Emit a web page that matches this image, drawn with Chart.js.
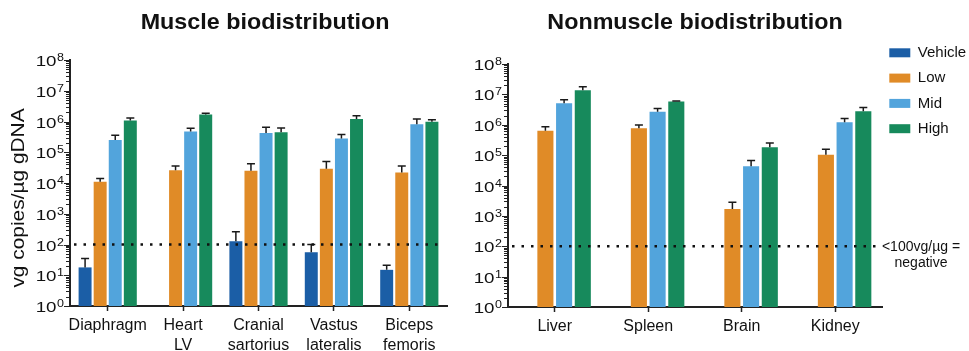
<!DOCTYPE html>
<html>
<head>
<meta charset="utf-8">
<title>Biodistribution</title>
<script src="https://cdn.jsdelivr.net/npm/chart.js@4.4.1/dist/chart.umd.min.js"></script>
<style>
  html, body { margin: 0; padding: 0; background: #fff; overflow: hidden; }
  .wrap { position: absolute; top: 0; height: 351px; }
  #muscleWrap { left: 0; width: 465px; }
  #nonmuscleWrap { left: 465px; width: 504px; }
</style>
</head>
<body>
<div class="wrap" id="muscleWrap"><canvas id="muscleChart" width="465" height="351"></canvas></div>
<div class="wrap" id="nonmuscleWrap"><canvas id="nonmuscleChart" width="504" height="351"></canvas></div>
<script>
// Dados (vg copies / µg gDNA) - média e topo da barra de erro
const seriesNames = ['Vehicle', 'Low', 'Mid', 'High'];

const muscleCategories = ['Diaphragm', ['Heart', 'LV'], ['Cranial', 'sartorius'], ['Vastus', 'lateralis'], ['Biceps', 'femoris']];
const muscleVehicle = [18, null, 127, 56, 15];
const muscleVehicleUpper = [35, null, 260, 100, 21];
const muscleLow = [1.1e4, 2.6e4, 2.5e4, 2.9e4, 2.2e4];
const muscleLowUpper = [1.4e4, 3.6e4, 4.2e4, 5.0e4, 3.6e4];
const muscleMid = [2.5e5, 4.7e5, 4.2e5, 2.8e5, 8.1e5];
const muscleMidUpper = [3.6e5, 6.0e5, 6.5e5, 3.8e5, 1.2e6];
const muscleHigh = [1.07e6, 1.7e6, 4.5e5, 1.2e6, 9.8e5];
const muscleHighUpper = [1.3e6, 1.85e6, 6.2e5, 1.55e6, 1.15e6];

const nonmuscleCategories = ['Liver', 'Spleen', 'Brain', 'Kidney'];
const nonmuscleVehicle = [null, null, null, null];
const nonmuscleVehicleUpper = [null, null, null, null];
const nonmuscleLow = [6.3e5, 7.6e5, 1.7e3, 1.02e5];
const nonmuscleLowUpper = [8.6e5, 9.8e5, 2.8e3, 1.55e5];
const nonmuscleMid = [5.1e6, 2.7e6, 4.3e4, 1.2e6];
const nonmuscleMidUpper = [6.6e6, 3.4e6, 6.7e4, 1.6e6];
const nonmuscleHigh = [1.37e7, 5.8e6, 1.8e5, 2.8e6];
const nonmuscleHighUpper = [1.77e7, 6.1e6, 2.5e5, 3.7e6];

// Eixo y logarítmico: expoentes rotulados e marcas menores
const yExponents = [0, 1, 2, 3, 4, 5, 6, 7, 8];
const minorSteps = [2, 3, 4, 5, 6, 7, 8, 9];
const negativeCutoff = 100;

const FONT = "'Liberation Sans', Arial, Helvetica, sans-serif";
const TEXT = '#111';
const AXIS = '#222';
const COLORS = ['#1b5ea6', '#e08b27', '#52a4dc', '#178a5c'];

// Texto esticado na horizontal (a fonte do original é mais larga)
function wideText(ctx, text, x, y, sx) {
    ctx.save();
    ctx.translate(x, y);
    ctx.scale(sx, 1);
    ctx.fillText(text, 0, 0);
    ctx.restore();
}

// Plugin: barras de erro, linha pontilhada, rótulos 10^n, títulos e notas
const biodistPlugin = {
    id: 'biodist',
    afterLayout(chart, args, opts) {
        if (opts.legendTop != null && chart.legend) {
            chart.legend.top = opts.legendTop;
            chart.legend.left += opts.legendShift || 0;
        }
    },
    afterDatasetsDraw(chart, args, opts) {
        const { ctx, chartArea } = chart;
        const yScale = chart.scales.y;
        ctx.save();

        // barras de erro (só a parte de cima)
        ctx.strokeStyle = '#1a1a1a';
        ctx.lineWidth = 1.5;
        chart.data.datasets.forEach((ds, i) => {
            chart.getDatasetMeta(i).data.forEach((bar, j) => {
                if (ds.data[j] == null || ds.upper[j] == null) return;
                const yTop = yScale.getPixelForValue(ds.upper[j]);
                ctx.beginPath();
                ctx.moveTo(bar.x, bar.y);
                ctx.lineTo(bar.x, yTop);
                ctx.moveTo(bar.x - 4, yTop);
                ctx.lineTo(bar.x + 4, yTop);
                ctx.stroke();
            });
        });

        // linha de corte <100 vg/µg
        const yCut = yScale.getPixelForValue(negativeCutoff);
        ctx.setLineDash([2.5, 7]);
        ctx.lineWidth = 2.5;
        ctx.strokeStyle = TEXT;
        ctx.beginPath();
        ctx.moveTo(chartArea.left + 4, yCut);
        ctx.lineTo(chartArea.right - 3, yCut);
        ctx.stroke();
        ctx.restore();
    },
    afterDraw(chart, args, opts) {
        const { ctx, chartArea } = chart;
        const yScale = chart.scales.y;
        const axisX = chartArea.left - 1;
        ctx.save();

        // marcas e rótulos do eixo y
        ctx.strokeStyle = AXIS;
        ctx.lineWidth = 1;
        ctx.fillStyle = TEXT;
        ctx.textAlign = 'right';
        ctx.textBaseline = 'alphabetic';
        const maxExp = Math.max(...yExponents);
        yExponents.forEach(e => {
            const base = Math.pow(10, e);
            const py = Math.round(yScale.getPixelForValue(base)) + 0.5;
            ctx.beginPath();
            ctx.moveTo(axisX - 5, py);
            ctx.lineTo(axisX, py);
            if (e < maxExp) {
                minorSteps.forEach(m => {
                    const my = Math.round(yScale.getPixelForValue(base * m)) + 0.5;
                    ctx.moveTo(axisX - 3, my);
                    ctx.lineTo(axisX, my);
                });
            }
            ctx.stroke();

            const supX = axisX - 5;
            ctx.font = `10px ${FONT}`;
            wideText(ctx, String(e), supX, py + 0.5, 1.25);
            const supW = ctx.measureText(String(e)).width * 1.25;
            ctx.font = `15px ${FONT}`;
            wideText(ctx, '10', supX - supW - 0.5, py + 5.5, 1.25);
        });

        // título do painel
        ctx.textAlign = 'center';
        ctx.font = `bold 22px ${FONT}`;
        wideText(ctx, opts.title, (chartArea.left + chartArea.right) / 2 + opts.titleShift, 29, 1.06);

        // rótulo do eixo y
        if (opts.yLabel) {
            ctx.save();
            ctx.translate(19, 198);
            ctx.rotate(-Math.PI / 2);
            ctx.scale(1.16, 1);
            ctx.textBaseline = 'middle';
            ctx.font = `18px ${FONT}`;
            ctx.fillText(opts.yLabel, 0, 0);
            ctx.restore();
        }

        // nota ao lado da linha de corte
        if (opts.note) {
            const yCut = yScale.getPixelForValue(negativeCutoff);
            ctx.font = `14px ${FONT}`;
            opts.note.forEach((line, k) => {
                ctx.fillText(line, chartArea.right + 39, yCut + 5 + k * 16);
            });
        }
        ctx.restore();
    }
};

function buildDatasets(values, uppers) {
    return seriesNames.map((name, i) => ({
        label: name,
        data: values[i],
        upper: uppers[i],
        backgroundColor: COLORS[i],
        borderWidth: 0,
        categoryPercentage: 0.8,
        barPercentage: 0.86
    }));
}

function makeChart(canvasId, categories, datasets, layout, panel) {
    const ctx = document.getElementById(canvasId).getContext('2d');
    return new Chart(ctx, {
        type: 'bar',
        data: { labels: categories, datasets: datasets },
        options: {
            responsive: false,
            animation: false,
            layout: { padding: { top: layout.top, right: layout.right, bottom: 0, left: 0 } },
            scales: {
                x: {
                    grid: { display: true, drawOnChartArea: false, offset: false, tickLength: 5, tickWidth: 1.5, tickColor: AXIS },
                    border: { display: true, color: AXIS, width: 2 },
                    ticks: { color: TEXT, padding: 5, maxRotation: 0, autoSkip: false, font: { family: FONT, size: 16, lineHeight: 1.25 } },
                    afterFit: s => { s.height = layout.xHeight; }
                },
                y: {
                    type: 'logarithmic',
                    min: 1,
                    max: 1e8,
                    grid: { display: false },
                    border: { display: true, color: AXIS, width: 2 },
                    ticks: { display: false },
                    afterFit: s => { s.width = layout.yWidth; }
                }
            },
            plugins: {
                tooltip: { enabled: false },
                legend: layout.legend ? {
                    display: true,
                    position: 'right',
                    align: 'start',
                    maxWidth: layout.legendWidth,
                    labels: { boxWidth: 21, boxHeight: 9, padding: 10.3, color: TEXT, font: { family: FONT, size: 15 } }
                } : { display: false },
                biodist: panel
            }
        },
        plugins: [biodistPlugin]
    });
}

document.addEventListener('DOMContentLoaded', () => {
    makeChart('muscleChart', muscleCategories,
        buildDatasets([muscleVehicle, muscleLow, muscleMid, muscleHigh],
                      [muscleVehicleUpper, muscleLowUpper, muscleMidUpper, muscleHighUpper]),
        { top: 60, right: 18, xHeight: 45, yWidth: 70, legend: false },
        { title: 'Muscle biodistribution', titleShift: 6.5, yLabel: 'vg copies/µg gDNA' });

    makeChart('nonmuscleChart', nonmuscleCategories,
        buildDatasets([nonmuscleVehicle, nonmuscleLow, nonmuscleMid, nonmuscleHigh],
                      [nonmuscleVehicleUpper, nonmuscleLowUpper, nonmuscleMidUpper, nonmuscleHighUpper]),
        { top: 64, right: 0, xHeight: 44, yWidth: 43, legend: true, legendWidth: 87 },
        { title: 'Nonmuscle biodistribution', titleShift: 0, legendTop: 35, legendShift: -3, note: ['<100vg/µg =', 'negative'] });
});
</script>
</body>
</html>
